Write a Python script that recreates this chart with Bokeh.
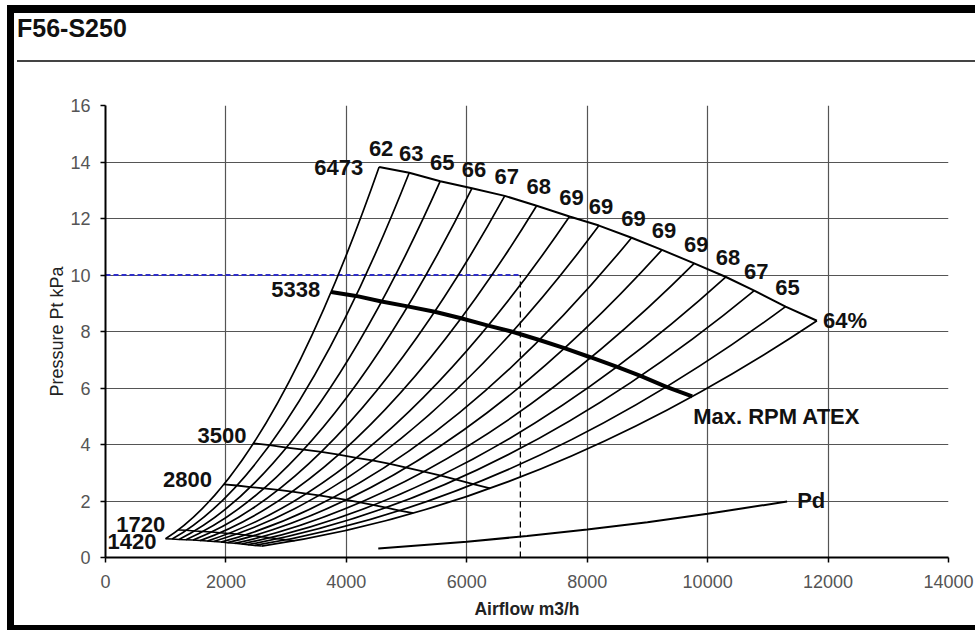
from bokeh.plotting import figure
from bokeh.models import Div, Range1d, FixedTicker, ColumnDataSource
from bokeh.layouts import column
from bokeh.embed import file_html
from bokeh.resources import INLINE
from bokeh.core.properties import value

FONT = "Liberation Sans"

# ---------------- data ----------------
chart_title = "F56-S250"
x_label = "Airflow m3/h"
y_label = "Pressure Pt kPa"
x_ticks = [0, 2000, 4000, 6000, 8000, 10000, 12000, 14000]
y_ticks = [0, 2, 4, 6, 8, 10, 12, 14, 16]

efficiency_labels = ["62", "63", "65", "66", "67", "68", "69", "69", "69",
                     "69", "69", "68", "67", "65", "64%"]
rpm_labels = ["6473", "5338", "3500", "2800", "1720", "1420"]

# fan curve at 6473 rpm (points where the efficiency lines meet it)
airflow_6473 = [4544, 5044, 5559, 6085, 6630, 7160, 7706, 8195, 8737, 9241,
                9777, 10304, 10774, 11294, 11815]
pressure_6473 = [13.82, 13.62, 13.32, 13.07, 12.80, 12.45, 12.07, 11.75, 11.32,
                 10.89, 10.41, 9.93, 9.45, 8.88, 8.38]
# fan curve at 5338 rpm (Max. RPM ATEX)
airflow_5338 = [3747, 4160, 4584, 5018, 5467, 5905, 6355, 6758, 7205, 7621,
                8063, 8497, 8885, 9314, 9743]
pressure_5338 = [9.40, 9.26, 9.06, 8.89, 8.70, 8.47, 8.21, 7.99, 7.70, 7.41,
                 7.08, 6.75, 6.43, 6.04, 5.70]
# fan curve at 3500 rpm
airflow_3500 = [2457, 2727, 3006, 3290, 3585, 3872, 4167, 4431, 4724, 4997,
                5287, 5571, 5826, 6107, 6389]
pressure_3500 = [4.04, 3.98, 3.89, 3.82, 3.74, 3.64, 3.53, 3.44, 3.31, 3.18,
                 3.04, 2.90, 2.76, 2.60, 2.45]
# fan curve at 2800 rpm
airflow_2800 = [1966, 2182, 2405, 2632, 2868, 3097, 3333, 3545, 3779, 3997,
                4229, 4457, 4661, 4885, 5111]
pressure_2800 = [2.586, 2.549, 2.492, 2.446, 2.395, 2.330, 2.259, 2.199, 2.118,
                 2.038, 1.948, 1.858, 1.768, 1.662, 1.568]
# fan curve at 1720 rpm
airflow_1720 = [1207, 1340, 1477, 1617, 1762, 1903, 2048, 2178, 2322, 2456,
                2598, 2738, 2863, 3001, 3140]
pressure_1720 = [0.976, 0.962, 0.940, 0.923, 0.904, 0.879, 0.852, 0.830, 0.799,
                 0.769, 0.735, 0.701, 0.667, 0.627, 0.592]
# fan curve at 1420 rpm
airflow_1420 = [997, 1107, 1220, 1335, 1454, 1571, 1691, 1798, 1917, 2027,
                2145, 2260, 2364, 2478, 2592]
pressure_1420 = [0.665, 0.655, 0.641, 0.629, 0.616, 0.599, 0.581, 0.565, 0.545,
                 0.524, 0.501, 0.478, 0.455, 0.427, 0.403]

# dynamic pressure line
pd_airflow = [4530, 6000, 7000, 8000, 9000, 10000, 11320]
pd_pressure = [0.32, 0.56, 0.76, 0.99, 1.25, 1.55, 1.98]
pd_label = "Pd"

# duty point
duty_airflow = 6890
duty_pressure = 10.0

max_rpm_label = "Max. RPM ATEX"

rpm_airflow = [airflow_6473, airflow_5338, airflow_3500, airflow_2800, airflow_1720, airflow_1420]
rpm_pressure = [pressure_6473, pressure_5338, pressure_3500, pressure_2800, pressure_1720, pressure_1420]

# ---------------- styles ----------------
rpm_line_widths = [2.0, 4.0, 1.8, 1.8, 1.5, 1.5]
rpm_label_dx = [-16, -11, -7, -12, -13, -9]
rpm_label_dy = [0, -2, -8, -5, -5, 3]
LABEL_SIZE = "22px"

W = 961
DIV_H = 49
FIG_H = 563

p = figure(width=W, height=FIG_H, x_range=Range1d(0, 14000), y_range=Range1d(0, 16),
           output_backend="svg", toolbar_location=None,
           min_border_left=91, min_border_right=27, min_border_top=43, min_border_bottom=68)
p.outline_line_color = None
p.background_fill_color = "white"
p.border_fill_color = "white"

p.xaxis.ticker = FixedTicker(ticks=x_ticks)
p.yaxis.ticker = FixedTicker(ticks=y_ticks)

p.grid.grid_line_color = "#555555"
p.grid.grid_line_width = 1.2

p.axis.axis_line_color = "black"
p.axis.axis_line_width = 2
p.axis.major_tick_line_color = "black"
p.axis.major_tick_line_width = 1.5
p.axis.major_tick_out = 5
p.axis.major_tick_in = 0
p.axis.minor_tick_line_color = None
p.axis.major_label_text_font = FONT
p.axis.major_label_text_font_size = "18px"
p.axis.major_label_text_color = "#555555"
p.xaxis.major_label_standoff = 12
p.yaxis.major_label_standoff = 10

p.yaxis.axis_label = y_label
p.yaxis.axis_label_text_font = FONT
p.yaxis.axis_label_text_font_size = "18px"
p.yaxis.axis_label_text_font_style = "normal"
p.yaxis.axis_label_text_color = "#222222"
p.yaxis.axis_label_standoff = 0

p.xaxis.axis_label = x_label
p.xaxis.axis_label_text_font = FONT
p.xaxis.axis_label_text_font_size = "17.5px"
p.xaxis.axis_label_text_font_style = "bold"
p.xaxis.axis_label_text_color = "#222222"
p.xaxis.axis_label_standoff = 8

# duty point dashed guides
p.line([0, duty_airflow], [duty_pressure, duty_pressure], line_color="#2f2fc8",
       line_width=2, line_dash="5 3")
p.line([duty_airflow, duty_airflow], [0, duty_pressure], line_color="black",
       line_width=1.3, line_dash="6 4")

# efficiency lines (parabolas through the fan-law points, as quadratic curves)
cx = [(a + b) / 2 for a, b in zip(airflow_1420, airflow_6473)]
cy = [pt * a / b for pt, a, b in zip(pressure_6473, airflow_1420, airflow_6473)]
eff_src = ColumnDataSource(dict(x0=airflow_1420, y0=pressure_1420,
                                x1=airflow_6473, y1=pressure_6473, cx=cx, cy=cy))
p.quadratic(x0="x0", y0="y0", x1="x1", y1="y1", cx="cx", cy="cy", source=eff_src,
            line_color="black", line_width=1.7)

# rpm curves
for qs, ps, lw in zip(rpm_airflow, rpm_pressure, rpm_line_widths):
    p.line(qs, ps, line_color="black", line_width=lw)

# Pd line
p.line(pd_airflow, pd_pressure, line_color="black", line_width=2)

# efficiency labels
lab_src = ColumnDataSource(dict(x=airflow_6473[:-1], y=pressure_6473[:-1],
                                t=efficiency_labels[:-1]))
p.text(x="x", y="y", text="t", source=lab_src, text_font=value(FONT),
       text_font_style="bold", text_font_size=LABEL_SIZE, text_color="#111111",
       text_align="center", text_baseline="middle", x_offset=2, y_offset=-19)
p.text(x=[airflow_6473[-1]], y=[pressure_6473[-1]], text=[efficiency_labels[-1]],
       text_font=value(FONT), text_font_style="bold", text_font_size=LABEL_SIZE,
       text_color="#111111", text_align="left", text_baseline="middle", x_offset=6, y_offset=0)

# rpm labels
rpm_src = ColumnDataSource(dict(x=[q[0] for q in rpm_airflow], y=[pp[0] for pp in rpm_pressure],
                                t=rpm_labels, dx=rpm_label_dx, dy=rpm_label_dy))
p.text(x="x", y="y", text="t", source=rpm_src, text_font=value(FONT),
       text_font_style="bold", text_font_size=LABEL_SIZE, text_color="#111111",
       text_align="right", text_baseline="middle", x_offset="dx", y_offset="dy")

# other labels
p.text(x=[airflow_5338[-1]], y=[pressure_5338[-1]], text=[max_rpm_label],
       text_font=value(FONT), text_font_style="bold", text_font_size=LABEL_SIZE,
       text_color="#111111", text_align="left", text_baseline="middle", x_offset=1, y_offset=20)
p.text(x=[pd_airflow[-1]], y=[pd_pressure[-1]], text=[pd_label],
       text_font=value(FONT), text_font_style="bold", text_font_size=LABEL_SIZE,
       text_color="#111111", text_align="left", text_baseline="middle", x_offset=10, y_offset=-1)

title_html = (
    '<div style="box-sizing:border-box;width:%dpx;height:%dpx;margin-left:3px;padding-top:1px;'
    'border-bottom:2px solid #444444;font-family:\'Liberation Sans\',Arial,sans-serif;'
    'font-weight:bold;font-size:25px;line-height:28px;color:#111111;">%s</div>'
    % (W - 3, DIV_H, chart_title)
)
div = Div(text=title_html, width=W, height=DIV_H, margin=0)

layout = column(div, p, spacing=0, margin=(5, 0, 0, 7),
                styles={"border-top": "8px solid black", "border-left": "7px solid black",
                        "border-bottom": "5px solid black", "background": "white"})

open("out.html", "w").write(file_html(layout, INLINE))
